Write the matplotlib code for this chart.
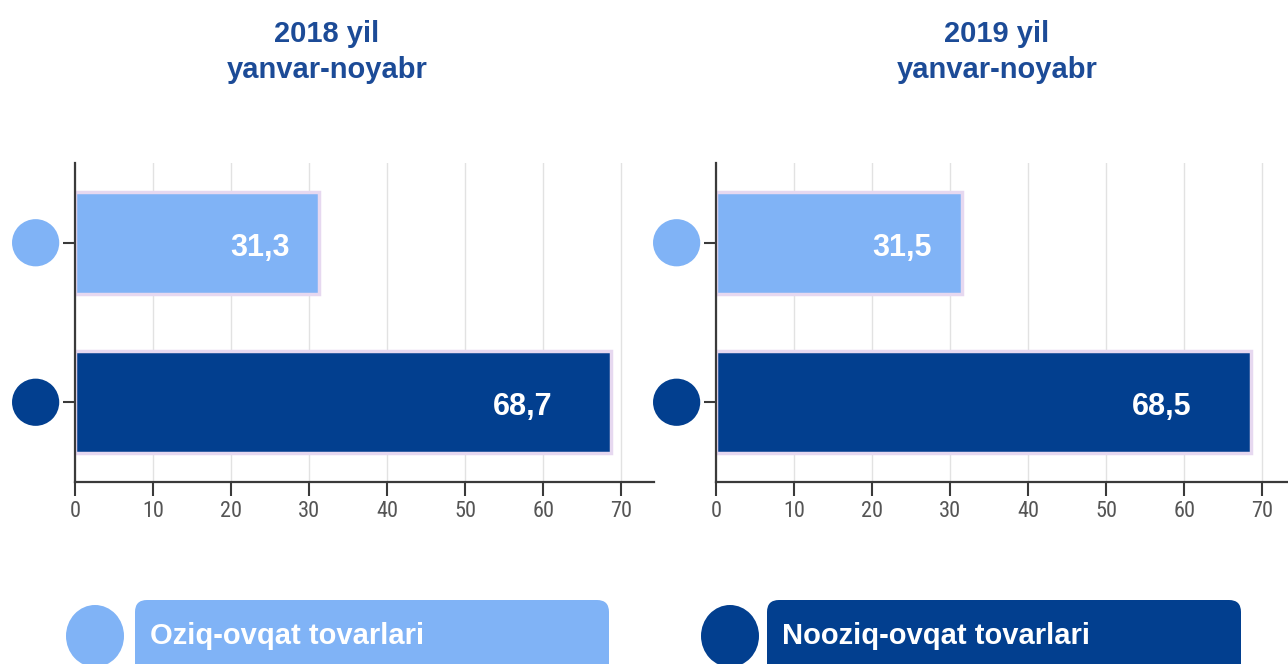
import matplotlib
matplotlib.use("Agg")
import matplotlib.pyplot as plt
from matplotlib import font_manager
from matplotlib.patches import Ellipse, FancyBboxPatch
from matplotlib.transforms import blended_transform_factory

# data
periods = ["2018 yil\nyanvar-noyabr", "2019 yil\nyanvar-noyabr"]
categories = ["Oziq-ovqat tovarlari", "Nooziq-ovqat tovarlari"]
values_2018 = [31.3, 68.7]
values_2019 = [31.5, 68.5]
xticks = [0, 10, 20, 30, 40, 50, 60, 70]

light = "#80B3F6"
dark = "#023F8F"
edge = "#E6D8F0"
title_col = "#1C4B97"

plt.rcParams['font.family'] = ['Liberation Sans', 'DejaVu Sans']

# pick a narrow face for tick labels if one is around
names = {f.name for f in font_manager.fontManager.ttflist}
narrow = None
for cand in ['Liberation Sans Narrow', 'DejaVu Sans Condensed', 'Roboto Condensed']:
    if cand in names:
        narrow = cand
        break
tick_family = [narrow, 'DejaVu Sans'] if narrow else ['DejaVu Sans']

W, H = 1288, 664
fig = plt.figure(figsize=(W / 100, H / 100), dpi=100)
fig.patch.set_facecolor("white")


def px_axes(x0, y_top, w, h):
    return fig.add_axes([x0 / W, 1 - (y_top + h) / H, w / W, h / H])


panels = [(75, values_2018, periods[0], 327),
          (716, values_2019, periods[1], 997)]
colors = [light, dark]
ypos = list(range(len(categories)))

for x0, vals, period, cx in panels:
    ax = px_axes(x0, 163, 579, 319)
    ax.barh(ypos, vals, height=0.64, color=colors, edgecolor=edge,
            linewidth=2.5, zorder=2)
    ax.set_xlim(0, 74.2)
    ax.set_ylim(1.5, -0.5)
    ax.set_xticks(xticks)
    ax.set_yticks(ypos)
    ax.set_yticklabels([])
    ax.set_axisbelow(True)
    ax.grid(axis="x", color="#E2E2E2", linewidth=1)
    for s in ["top", "right"]:
        ax.spines[s].set_visible(False)
    for s in ["left", "bottom"]:
        ax.spines[s].set_color("#3A3A3A")
        ax.spines[s].set_linewidth(1.6)
    ax.tick_params(axis="x", length=10, width=1.5, color="#3A3A3A",
                   labelcolor="#555555", labelsize=16, pad=4)
    ax.tick_params(axis="y", length=9, width=1.5, color="#3A3A3A")
    for lab in ax.get_xticklabels():
        lab.set_family(tick_family)
        if narrow is None:
            lab.set_fontsize(15)

    trans = blended_transform_factory(ax.transAxes, ax.transData)
    ax.scatter([-0.068] * len(ypos), ypos, s=34 ** 2, c=colors,
               transform=trans, clip_on=False, zorder=3, linewidths=0)

    for i, v in enumerate(vals):
        ax.text(v * 0.9 - 0.7, i + 0.03, f"{v:.1f}".replace(".", ","),
                ha="right", va="center", color="white", fontsize=22,
                fontweight="bold", zorder=4)

    fig.text(cx / W, 1 - 52 / H, period, ha="center", va="center",
             fontsize=21, fontweight="bold", color=title_col,
             linespacing=1.35)

# legend
ov = fig.add_axes([0, 0, 1, 1])
ov.set_xlim(0, W)
ov.set_ylim(H, 0)
ov.axis("off")
ov.patch.set_visible(False)

leg_circle_x = [95, 730]
leg_rect = [(135, 609), (767, 1241)]
for cat, col, ccx, (rx0, rx1) in zip(categories, colors, leg_circle_x, leg_rect):
    ov.add_patch(Ellipse((ccx, 636), 58, 62, color=col, lw=0))
    ov.add_patch(FancyBboxPatch((rx0, 600), rx1 - rx0, 90,
                                boxstyle="round,pad=0,rounding_size=12",
                                color=col, lw=0))
    ov.text(rx0 + 15, 636, cat, ha="left", va="center", color="white",
            fontsize=21, fontweight="bold")

fig.savefig("out.png", dpi=100)
